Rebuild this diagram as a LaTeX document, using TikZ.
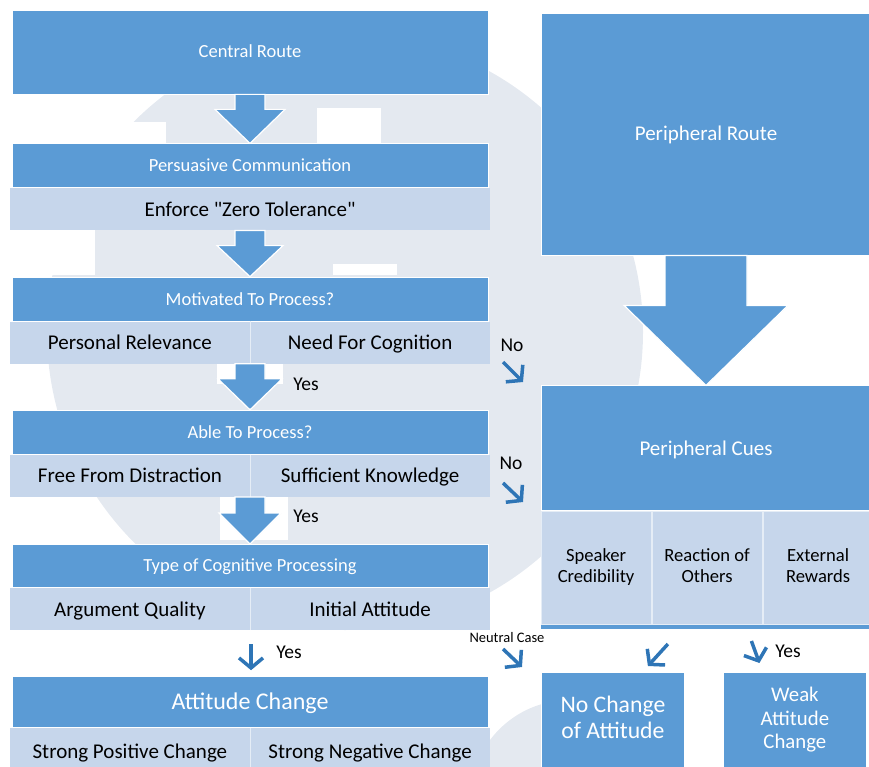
\documentclass[tikz,border=0pt]{standalone}
\usepackage{fontspec}
\setmainfont{Carlito}
\usetikzlibrary{positioning,arrows.meta,calc}

\definecolor{rblue}{HTML}{5B9BD5}
\definecolor{rlight}{HTML}{C6D6EB}
\definecolor{rdark}{HTML}{2E75B6}
\definecolor{wmark}{HTML}{E4E9F0}

\newcommand{\fsz}[2]{\fontsize{#1}{#2}\selectfont}
% block arrow from the bottom of #1 to the top of #2
% #3 half shaft width, #4 half head width, #5 head length
\newcommand{\blockarrow}[5]{%
  \filldraw[bigarr] ($(#1.south)+(-#3,0)$) -- ($(#2.north)+(-#3,-#5)$)
    -- ($(#2.north)+(-#4,-#5)$) -- (#2.north) -- ($(#2.north)+(#4,-#5)$)
    -- ($(#2.north)+(#3,-#5)$) -- ($(#1.south)+(#3,0)$) -- cycle;}

\begin{document}
\begin{tikzpicture}[
    x=1pt, y=-1pt,
    node distance=46pt,
    every node/.style={inner sep=0pt},
    hdr/.style={rectangle, fill=rblue, draw=white, line width=0.8pt, text=white, minimum width=476pt, text height=15pt, text depth=3pt, font=\fsz{18.5}{22}},
    subrow/.style={rectangle, fill=rlight, minimum width=480pt, minimum height=42pt},
    subtxt/.style={text=black, text height=17pt, text depth=3pt, font=\fsz{21}{25}},
    divider/.style={draw=white!55!rlight, line width=1pt},
    cell/.style={rectangle, fill=rlight, draw=white!55!rlight, line width=1pt, minimum width=110pt, minimum height=113pt, align=center, font=\fsz{18.6}{21}},
    bluebox/.style={rectangle, fill=rblue, draw=white, line width=0.8pt, text=white, align=center},
    bigarr/.style={fill=rblue, draw=white, line width=1.2pt},
    tick/.style={draw=rdark, line width=3.5pt, -{Straight Barb[length=10pt,width=24pt]}},
    lbl/.style={font=\fsz{19.5}{22}}
]
\useasboundingbox (0,0) rectangle (869,767);
\clip (0,0) rectangle (869,767);

% faint logo in the back
\fill[wmark] (345,332) circle[radius=298pt];
\fill[wmark] (570,800) circle[radius=100pt];
\fill[white] (0,122) rectangle (166,143);
\fill[white] (317,108) rectangle (381,143);
\fill[white] (0,229) rectangle (95,275);
\fill[white] (333,264) rectangle (397,275);
\fill[white] (217,361) rectangle (283,384);
\fill[white] (220,493) rectangle (288,540);

% central route column
\node[hdr, minimum height=84pt] (cr) at (250,52) {Central Route};
\node[hdr, minimum height=44pt, below=49pt of cr] (pc) {Persuasive Communication};
\node[subrow, below=0pt of pc] (pcSub) {};
\node[subtxt] (zero) at (pcSub) {Enforce \textquotedbl Zero Tolerance\textquotedbl};

\node[hdr, minimum height=44pt, below=of pcSub] (mp) {Motivated To Process?};
\node[subrow, below=0pt of mp] (mpSub) {};
\draw[divider] (mpSub.north) -- (mpSub.south);
\node[subtxt] (prel) at ($(mpSub.west)!0.5!(mpSub.center)$) {Personal Relevance};
\node[subtxt] (ncog) at ($(mpSub.center)!0.5!(mpSub.east)$) {Need For Cognition};

\node[hdr, minimum height=44pt, below=of mpSub] (ap) {Able To Process?};
\node[subrow, below=0pt of ap] (apSub) {};
\draw[divider] (apSub.north) -- (apSub.south);
\node[subtxt] (fdis) at ($(apSub.west)!0.5!(apSub.center)$) {Free From Distraction};
\node[subtxt] (sknw) at ($(apSub.center)!0.5!(apSub.east)$) {Sufficient Knowledge};

\node[hdr, minimum height=43pt, below=47pt of apSub] (tc) {Type of Cognitive Processing};
\node[subrow, below=0pt of tc] (tcSub) {};
\draw[divider] (tcSub.north) -- (tcSub.south);
\node[subtxt] (aqual) at ($(tcSub.west)!0.5!(tcSub.center)$) {Argument Quality};
\node[subtxt] (iatt) at ($(tcSub.center)!0.5!(tcSub.east)$) {Initial Attitude};

\node[hdr, minimum height=51pt, below=of tcSub, text height=19pt, text depth=3.5pt, font=\fsz{24}{28}] (ac) {Attitude Change};
\node[subrow, minimum height=46pt, below=0pt of ac] (acSub) {};
\draw[divider] (acSub.north) -- (acSub.south);
\node[subtxt] (spos) at ($(acSub.west)!0.5!(acSub.center)$) {Strong Positive Change};
\node[subtxt] (sneg) at ($(acSub.center)!0.5!(acSub.east)$) {Strong Negative Change};

% peripheral route column
\node[bluebox, minimum width=330pt, minimum height=242pt, text height=17pt, text depth=3pt, font=\fsz{21}{25}] (pr) at (706,134) {Peripheral Route};
\node[bluebox, minimum width=330pt, minimum height=125pt, below=130pt of pr, text height=17pt, text depth=3pt, font=\fsz{21}{25}] (pcue) {Peripheral Cues};
\node[cell, anchor=north west] (sc) at (pcue.south west) {Speaker\strut\\Credibility\strut};
\node[cell, right=0pt of sc] (ro) {Reaction of\strut\\Others\strut};
\node[cell, right=0pt of ro] (er) {External\strut\\Rewards\strut};
\fill[rblue] (sc.south west) rectangle ([yshift=-4pt]er.south east);

\node[bluebox, anchor=north west, minimum width=143pt, minimum height=96pt, font=\fsz{23.7}{26}] (nc) at (541,672) {No Change\strut\\of Attitude\strut};
\node[bluebox, anchor=north west, minimum width=143pt, minimum height=96pt, font=\fsz{20.8}{23.5}] (wc) at (723,672) {Weak\strut\\Attitude\strut\\Change\strut};

% block arrows
\blockarrow{cr}{pc}{15}{35}{34}
\blockarrow{pcSub}{mp}{15}{33}{31}
\blockarrow{mpSub}{ap}{15}{32}{31}
\blockarrow{apSub}{tc}{15}{31}{31}
\blockarrow{pr}{pcue}{41}{82}{80}

% small decision arrows and their labels
\node[lbl] (yes1) at (306,384) {Yes};
\node[lbl] (yes2) at (306,516) {Yes};
\node[lbl] (yes3) at (289,652) {Yes};
\node[lbl] (yes4) at (788,651) {Yes};
\node[lbl] (no1) at (512,345) {No};
\node[lbl] (no2) at (511,463) {No};
\node[font=\fsz{14.5}{16}] (neut) at (507,638) {Neutral Case};

\draw[tick] ($(no1)+(-9,17)$) -- ++(20,20);
\draw[tick] ($(no2)+(-8,20)$) -- ++(20,19);
\draw[tick] ($(neut)+(-4,11)$) -- ++(19,18);
\draw[tick] ($(ac.north)+(1,-32)$) -- ($(ac.north)+(1,-6)$);
\draw[tick] ($(nc.north)+(55,-28)$) -- ($(nc.north)+(35,-6)$);
\draw[tick] ($(wc.north)+(-43.5,-31)$) -- ($(wc.north)+(-35.5,-9)$);
\end{tikzpicture}
\end{document}
